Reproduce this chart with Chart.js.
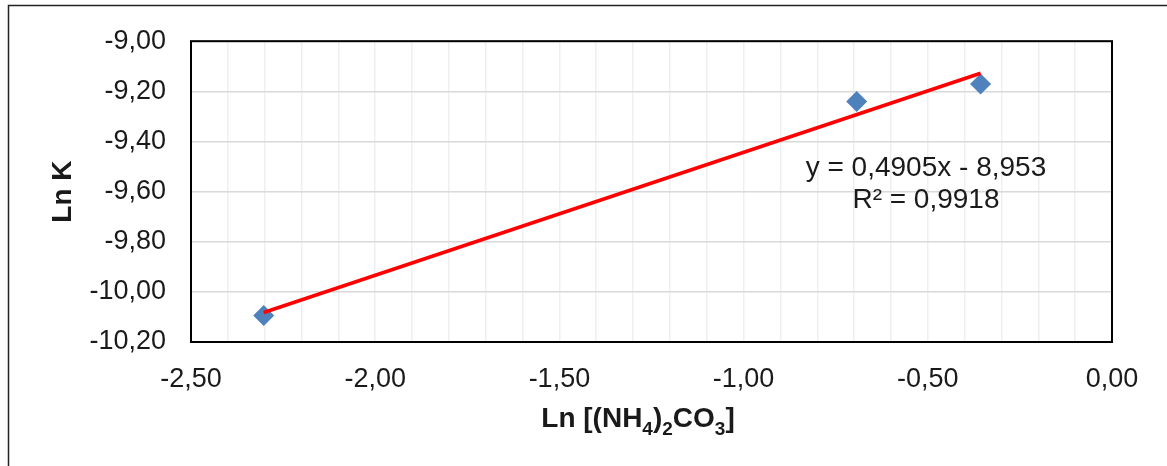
<!DOCTYPE html>
<html>
<head>
<meta charset="utf-8">
<script src="https://cdn.jsdelivr.net/npm/chart.js@4/dist/chart.umd.min.js"></script>
<style>
  html, body { margin: 0; padding: 0; background: #fff; }
  #wrap { width: 1167px; height: 466px; }
</style>
</head>
<body>
<div id="wrap"><canvas id="lnChart" width="1167" height="466"></canvas></div>
<script>
// Ln [(NH4)2CO3] vs Ln K
const lnConc = [-2.3026, -0.6931, -0.3567];
const lnK = [-10.094, -9.241, -9.171];

// Excel trendline values shown on chart
const slope = 0.4905;
const intercept = -8.953;
const rSquared = 0.9918;

const eqText = 'y = 0,4905x - 8,953';
const r2Text = 'R² = 0,9918';

const xMin = -2.5, xMax = 0, xStep = 0.1;
const yMin = -10.2, yMax = -9.0, yStep = 0.2;

const fmt = v => v.toFixed(2).replace('.', ',');

const trendPts = [
    { x: Math.min(...lnConc), y: slope * Math.min(...lnConc) + intercept },
    { x: Math.max(...lnConc), y: slope * Math.max(...lnConc) + intercept }
];

// frame, plot border, titles and equation
const decorPlugin = {
    id: 'decor',
    afterDraw(chart) {
        const ctx = chart.ctx;
        const a = chart.chartArea;
        ctx.save();

        // outer frame (runs off right/bottom)
        ctx.strokeStyle = '#222';
        ctx.lineWidth = 1.5;
        ctx.strokeRect(8.5, 5.5, 1300, 600);

        // plot border
        ctx.strokeStyle = '#000';
        ctx.lineWidth = 2;
        ctx.strokeRect(a.left, a.top, a.right - a.left, a.bottom - a.top);

        ctx.fillStyle = '#1a1a1a';

        // equation text
        const xs = chart.scales.x, ys = chart.scales.y;
        const cx = xs.getPixelForValue(-0.505);
        const cy = ys.getPixelForValue(-9.57);
        ctx.font = '28px "Liberation Sans", Arial, sans-serif';
        ctx.textAlign = 'center';
        ctx.textBaseline = 'middle';
        ctx.fillText(eqText, cx, cy - 16);
        ctx.fillText(r2Text, cx, cy + 16);

        // y title
        ctx.font = 'bold 28px "Liberation Sans", Arial, sans-serif';
        ctx.save();
        ctx.translate(63, (a.top + a.bottom) / 2);
        ctx.rotate(-Math.PI / 2);
        ctx.fillText('Ln K', 0, 0);
        ctx.restore();

        // x title with subscripts
        const parts = [
            ['Ln [(NH', false], ['4', true], [')', false], ['2', true],
            ['CO', false], ['3', true], [']', false]
        ];
        const mainFont = 'bold 28px "Liberation Sans", Arial, sans-serif';
        const subFont = 'bold 19px "Liberation Sans", Arial, sans-serif';
        let total = 0;
        parts.forEach(p => { ctx.font = p[1] ? subFont : mainFont; total += ctx.measureText(p[0]).width; });
        let x = 638 - total / 2;
        const base = 427;
        ctx.textAlign = 'left';
        ctx.textBaseline = 'alphabetic';
        parts.forEach(p => {
            ctx.font = p[1] ? subFont : mainFont;
            ctx.fillText(p[0], x, p[1] ? base + 8 : base);
            x += ctx.measureText(p[0]).width;
        });

        ctx.restore();
    }
};

new Chart(document.getElementById('lnChart'), {
    type: 'scatter',
    data: {
        datasets: [
            {
                label: 'Linear',
                type: 'line',
                data: trendPts,
                borderColor: '#ff0000',
                borderWidth: 3.5,
                pointRadius: 0,
                fill: false,
                order: 0
            },
            {
                label: 'Ln K',
                data: lnConc.map((v, i) => ({ x: v, y: lnK[i] })),
                backgroundColor: '#4f81bd',
                borderWidth: 0,
                pointStyle: 'rectRot',
                pointRadius: 10.5,
                order: 1
            }
        ]
    },
    options: {
        responsive: false,
        animation: false,
        layout: { padding: { left: 0, right: 55, top: 41, bottom: 0 } },
        plugins: {
            legend: { display: false },
            tooltip: { enabled: false }
        },
        scales: {
            x: {
                type: 'linear',
                min: xMin, max: xMax,
                border: { display: false },
                grid: { color: '#efefef', lineWidth: 1.5, drawTicks: false },
                ticks: {
                    stepSize: xStep,
                    autoSkip: false,
                    maxRotation: 0,
                    padding: 21,
                    color: '#1a1a1a',
                    font: { family: '"Liberation Sans", Arial, sans-serif', size: 27 },
                    callback: v => Math.abs(v * 2 - Math.round(v * 2)) < 1e-6 ? fmt(v) : ''
                },
                afterFit: s => { s.height = 124; }
            },
            y: {
                min: yMin, max: yMax,
                border: { display: false },
                grid: { color: '#d9d9d9', lineWidth: 1.5, drawTicks: false },
                ticks: {
                    stepSize: yStep,
                    padding: 25,
                    color: '#1a1a1a',
                    font: { family: '"Liberation Sans", Arial, sans-serif', size: 27 },
                    callback: v => fmt(v)
                },
                afterFit: s => { s.height; s.width = 191; }
            }
        }
    },
    plugins: [decorPlugin]
});
</script>
</body>
</html>
